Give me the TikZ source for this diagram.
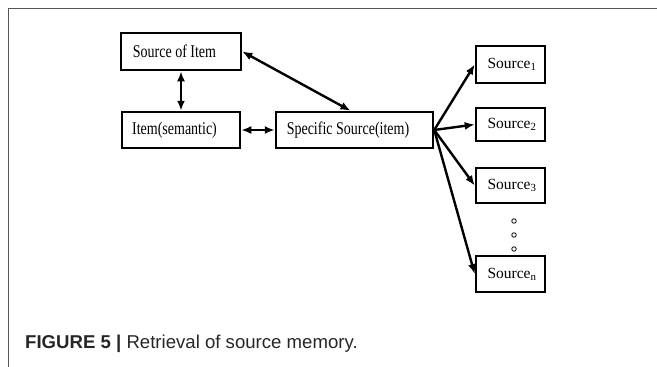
\documentclass[tikz,border=0pt]{standalone}
\usepackage{fontspec}
\setmainfont{Liberation Serif}
\newfontfamily\capfont{Liberation Sans}
\usetikzlibrary{arrows.meta}
\definecolor{framegray}{HTML}{555555}
\definecolor{captext}{HTML}{262626}
% taller lettering for the left-hand boxes, set a little left of centre
\newcommand{\tallbox}[1]{\scalebox{1}[1.28]{#1}\hspace*{13pt}}
\tikzset{
  box/.style={draw, line width=2.5pt, minimum height=36pt, inner sep=0pt,
    font=\fontsize{14}{16}\selectfont},
  srcbox/.style={box, minimum width=69pt, font=\fontsize{15.5}{18}\selectfont},
  tip/.tip={Latex[length=10pt,width=8pt]},
  link/.style={line width=2.4pt, tip-tip},
  fan/.style={line width=2.4pt, -tip},
  dot/.style={circle, draw, line width=0.8pt, minimum size=4.5pt, inner sep=0pt}
}
\begin{document}
\begin{tikzpicture}[x=1pt,y=-1pt]
\useasboundingbox (0,0) rectangle (657,367);
% frame lines
\draw[framegray, line width=1.8pt] (8.5,367) -- (8.5,8.5) -- (657,8.5);
% left column
\node[box, minimum width=120pt, minimum height=37pt] (soi) at (181,51.5) {\tallbox{Source of Item}};
\node[box, minimum width=118pt] (item) at (181,130) {\tallbox{Item(semantic)}};
\node[box, minimum width=157pt] (spec) at (354.5,130) {\tallbox{Specific Source(item)}};
% sources
\node[srcbox, minimum height=37pt] (s1) at (510.5,64.5) {\hspace*{3pt}Source\textsubscript{1}};
\node[srcbox, minimum height=33pt] (s2) at (510.5,124.5) {\hspace*{3pt}Source\textsubscript{2}};
\node[srcbox, minimum height=35pt] (s3) at (510.5,185.5) {\hspace*{3pt}Source\textsubscript{3}};
\node[srcbox, minimum height=36pt] (sn) at (510.5,274) {\hspace*{3pt}Source\textsubscript{n}};
% ellipsis dots
\node[dot] (d1) at (514,221) {};
\node[dot] (d2) at (514,235) {};
\node[dot] (d3) at (514,249) {};
% connectors
\draw[link] (soi.south) -- (item.north);
\draw[link] (item.east) -- (spec.west);
\draw[link] (soi.east) -- ([xshift=-4pt]spec.north);
\draw[fan] (spec.east) -- (s1.west);
\draw[fan] (spec.east) -- (s2.west);
\draw[fan] (spec.east) -- (s3.west);
\draw[fan] (spec.east) -- (sn.west);
% caption
\node[anchor=base west, inner sep=0pt, text=captext, font=\capfont\fontsize{18.6}{22}\selectfont] (cap) at (25,348.5)
  {\textbf{FIGURE 5 |} Retrieval of source memory.};
\end{tikzpicture}
\end{document}
